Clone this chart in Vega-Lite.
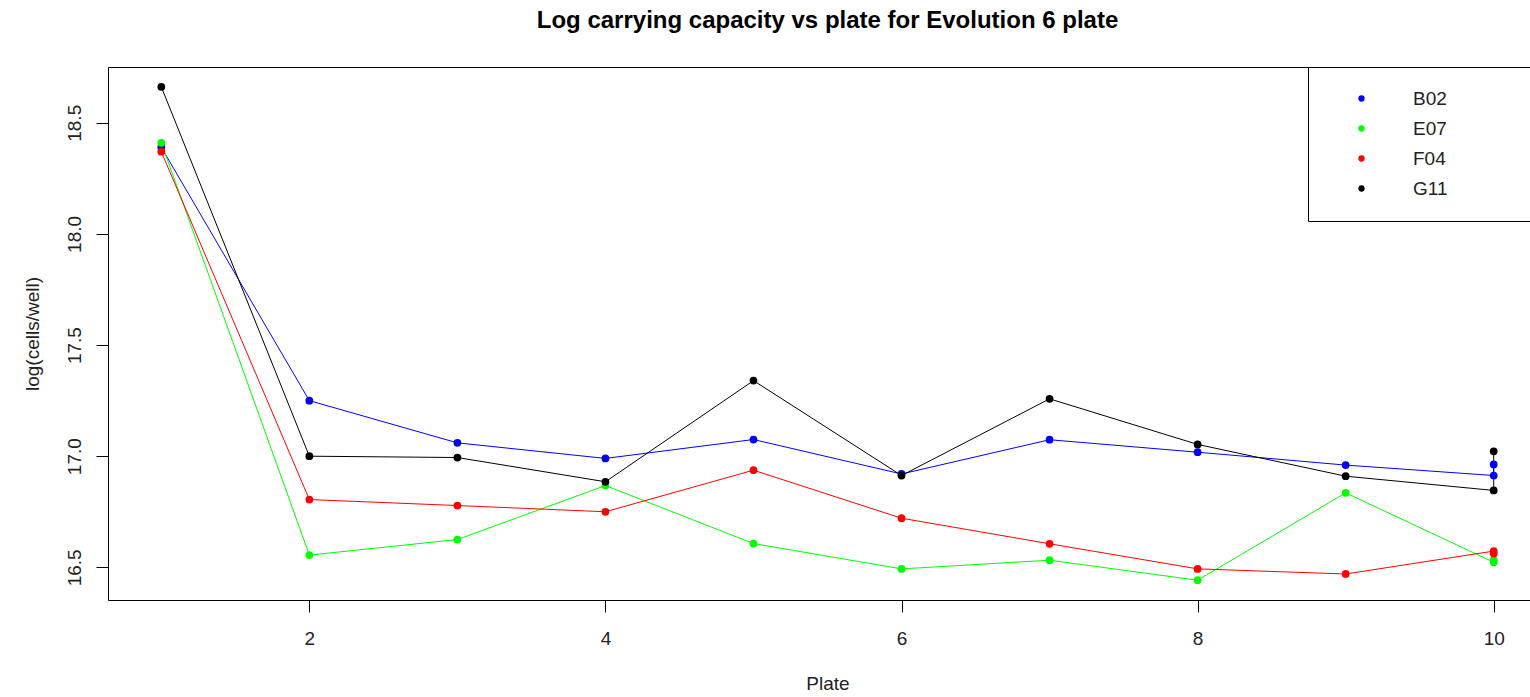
{
  "$schema": "https://vega.github.io/schema/vega-lite/v6.json",
  "autosize": "none",
  "padding": {"left": 108, "top": 67, "right": 0, "bottom": 97},
  "width": 1439,
  "height": 533,
  "background": "white",
  "title": {
    "text": "Log carrying capacity vs plate for Evolution 6 plate",
    "font": "Liberation Sans",
    "fontSize": 24,
    "fontWeight": "bold",
    "color": "black",
    "anchor": "middle",
    "offset": 34
  },
  "config": {
    "view": {"stroke": "black", "strokeWidth": 1},
    "axis": {
      "domain": false,
      "grid": false,
      "tickColor": "black",
      "tickSize": 12,
      "labelFont": "Liberation Sans",
      "labelFontSize": 19,
      "labelColor": "#222",
      "titleFont": "Liberation Sans",
      "titleFontSize": 19,
      "titleFontWeight": "normal",
      "titleColor": "#222"
    },
    "legend": {
      "symbolType": "circle",
      "symbolStrokeWidth": 0
    }
  },
  "data": {
    "values": [
      {"strain": "B02", "i": 1, "plate": 1, "logk": 18.39},
      {"strain": "B02", "i": 2, "plate": 2, "logk": 17.25},
      {"strain": "B02", "i": 3, "plate": 3, "logk": 17.06},
      {"strain": "B02", "i": 4, "plate": 4, "logk": 16.99},
      {"strain": "B02", "i": 5, "plate": 5, "logk": 17.075},
      {"strain": "B02", "i": 6, "plate": 6, "logk": 16.92},
      {"strain": "B02", "i": 7, "plate": 7, "logk": 17.074},
      {"strain": "B02", "i": 8, "plate": 8, "logk": 17.018},
      {"strain": "B02", "i": 9, "plate": 9, "logk": 16.96},
      {"strain": "B02", "i": 10, "plate": 10, "logk": 16.913},
      {"strain": "B02", "i": 11, "plate": 10, "logk": 16.963},
      {"strain": "E07", "i": 1, "plate": 1, "logk": 18.41},
      {"strain": "E07", "i": 2, "plate": 2, "logk": 16.555},
      {"strain": "E07", "i": 3, "plate": 3, "logk": 16.625},
      {"strain": "E07", "i": 4, "plate": 4, "logk": 16.868},
      {"strain": "E07", "i": 5, "plate": 5, "logk": 16.607},
      {"strain": "E07", "i": 6, "plate": 6, "logk": 16.493},
      {"strain": "E07", "i": 7, "plate": 7, "logk": 16.532},
      {"strain": "E07", "i": 8, "plate": 8, "logk": 16.442},
      {"strain": "E07", "i": 9, "plate": 9, "logk": 16.835},
      {"strain": "E07", "i": 10, "plate": 10, "logk": 16.523},
      {"strain": "E07", "i": 11, "plate": 10, "logk": 16.532},
      {"strain": "F04", "i": 1, "plate": 1, "logk": 18.37},
      {"strain": "F04", "i": 2, "plate": 2, "logk": 16.805},
      {"strain": "F04", "i": 3, "plate": 3, "logk": 16.778},
      {"strain": "F04", "i": 4, "plate": 4, "logk": 16.75},
      {"strain": "F04", "i": 5, "plate": 5, "logk": 16.937},
      {"strain": "F04", "i": 6, "plate": 6, "logk": 16.721},
      {"strain": "F04", "i": 7, "plate": 7, "logk": 16.606},
      {"strain": "F04", "i": 8, "plate": 8, "logk": 16.493},
      {"strain": "F04", "i": 9, "plate": 9, "logk": 16.47},
      {"strain": "F04", "i": 10, "plate": 10, "logk": 16.573},
      {"strain": "F04", "i": 11, "plate": 10, "logk": 16.562},
      {"strain": "G11", "i": 1, "plate": 1, "logk": 18.662},
      {"strain": "G11", "i": 2, "plate": 2, "logk": 17.0},
      {"strain": "G11", "i": 3, "plate": 3, "logk": 16.994},
      {"strain": "G11", "i": 4, "plate": 4, "logk": 16.885},
      {"strain": "G11", "i": 5, "plate": 5, "logk": 17.34},
      {"strain": "G11", "i": 6, "plate": 6, "logk": 16.913},
      {"strain": "G11", "i": 7, "plate": 7, "logk": 17.258},
      {"strain": "G11", "i": 8, "plate": 8, "logk": 17.053},
      {"strain": "G11", "i": 9, "plate": 9, "logk": 16.91},
      {"strain": "G11", "i": 10, "plate": 10, "logk": 16.846},
      {"strain": "G11", "i": 11, "plate": 10, "logk": 17.022}
    ]
  },
  "encoding": {
    "x": {
      "field": "plate",
      "type": "quantitative",
      "title": "Plate",
      "scale": {"domain": [0.64, 10.36], "nice": false, "zero": false},
      "axis": {
        "values": [2, 4, 6, 8, 10],
        "format": "d",
        "labelPadding": 17,
        "titlePadding": 26
      }
    },
    "y": {
      "field": "logk",
      "type": "quantitative",
      "title": "log(cells/well)",
      "scale": {"domain": [16.353, 18.751], "nice": false, "zero": false},
      "axis": {
        "values": [16.5, 17, 17.5, 18, 18.5],
        "format": ".1f",
        "labelAngle": -90,
        "labelAlign": "center",
        "labelBaseline": "bottom",
        "labelPadding": 12,
        "titlePadding": 23
      }
    },
    "color": {
      "field": "strain",
      "type": "nominal",
      "scale": {
        "domain": ["B02", "E07", "F04", "G11"],
        "range": ["#0000FF", "#00FF00", "#FF0000", "#000000"]
      },
      "legend": {
        "title": "\u00a0",
        "titleOrient": "right",
        "titlePadding": 90,
        "titleFontSize": 19,
        "orient": "none",
        "legendX": 1200,
        "legendY": 0,
        "direction": "vertical",
        "strokeColor": "black",
        "fillColor": "white",
        "padding": 22,
        "symbolType": "circle",
        "symbolSize": 40,
        "symbolStrokeWidth": 0,
        "symbolOffset": 22,
        "labelOffset": 42,
        "labelFont": "Liberation Sans",
        "labelFontSize": 19,
        "labelColor": "#222",
        "rowPadding": 10
      }
    },
    "order": {"field": "i", "type": "quantitative"}
  },
  "layer": [
    {
      "mark": {"type": "line", "strokeWidth": 1}
    },
    {
      "mark": {"type": "point", "filled": true, "opacity": 1, "size": 60}
    }
  ]
}
